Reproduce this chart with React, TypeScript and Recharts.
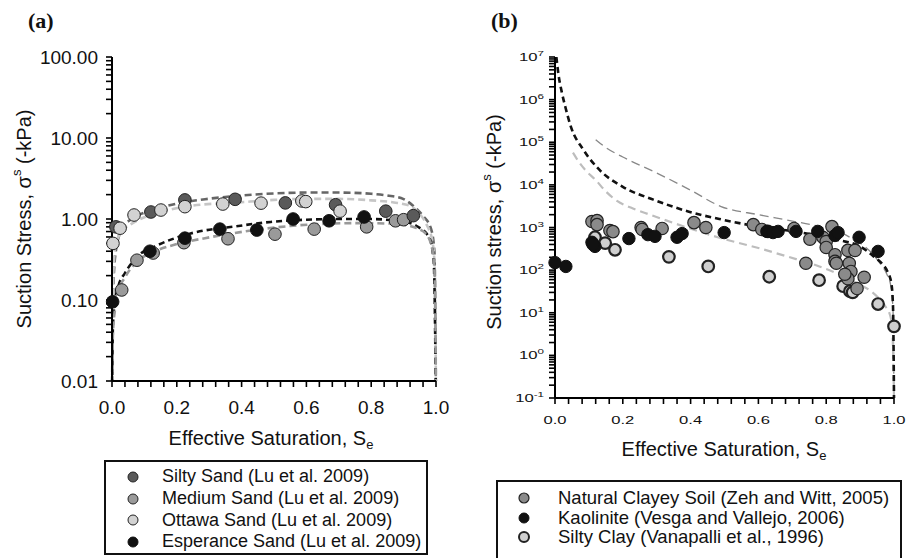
import React from 'react';
import { ComposedChart, Line, Scatter, XAxis, YAxis } from 'recharts';

type Pt = { x: number; y: number };
const pts = (rows: number[][]): Pt[] => rows.map(([x, y]) => ({ x, y }));

// ---------- panel (a): measured points ----------
const SILTY_SAND = pts([[0.012, 0.8], [0.12, 1.22], [0.225, 1.72], [0.38, 1.75], [0.535, 1.58], [0.69, 1.5], [0.845, 1.25], [0.93, 1.1]]);
const MEDIUM_SAND = pts([[0.03, 0.133], [0.077, 0.31], [0.127, 0.38], [0.222, 0.51], [0.358, 0.57], [0.503, 0.65], [0.624, 0.75], [0.786, 0.8], [0.875, 0.95], [0.9, 0.98]]);
const OTTAWA_SAND = pts([[0.003, 0.5], [0.025, 0.77], [0.068, 1.12], [0.151, 1.29], [0.225, 1.42], [0.342, 1.53], [0.46, 1.57], [0.586, 1.67], [0.598, 1.64], [0.704, 1.25]]);
const ESPERANCE_SAND = pts([[0.002, 0.095], [0.117, 0.4], [0.225, 0.58], [0.333, 0.75], [0.447, 0.73], [0.559, 1.0], [0.67, 0.95], [0.778, 1.06]]);

// ---------- panel (a): fitted curves ----------
const SILTY_SAND_FIT = pts([[0, 0.005], [0.003, 0.1], [0.01, 0.35], [0.03, 0.75], [0.06, 1.0], [0.1, 1.2], [0.15, 1.38], [0.2, 1.55], [0.3, 1.78], [0.4, 1.95], [0.5, 2.07], [0.6, 2.12], [0.7, 2.12], [0.8, 2.05], [0.85, 1.95], [0.9, 1.76], [0.93, 1.45], [0.96, 1.09], [0.985, 0.75], [0.995, 0.4], [1.0, 0.005]]);
const OTTAWA_SAND_FIT = pts([[0, 0.005], [0.003, 0.15], [0.01, 0.45], [0.03, 0.7], [0.06, 0.87], [0.1, 1.05], [0.15, 1.22], [0.24, 1.45], [0.39, 1.6], [0.5, 1.72], [0.6, 1.77], [0.7, 1.77], [0.8, 1.7], [0.87, 1.6], [0.92, 1.45], [0.95, 1.15], [0.97, 0.87], [0.99, 0.5], [0.997, 0.2], [1.0, 0.005]]);
const ESPERANCE_SAND_FIT = pts([[0, 0.005], [0.003, 0.05], [0.01, 0.1], [0.02, 0.15], [0.04, 0.215], [0.08, 0.35], [0.133, 0.46], [0.235, 0.65], [0.39, 0.82], [0.49, 0.92], [0.6, 0.98], [0.7, 1.0], [0.8, 1.0], [0.86, 0.97], [0.9, 0.93], [0.94, 0.82], [0.98, 0.58], [0.993, 0.3], [1.0, 0.005]]);
const MEDIUM_SAND_FIT = pts([[0, 0.005], [0.003, 0.04], [0.01, 0.08], [0.02, 0.13], [0.04, 0.19], [0.07, 0.28], [0.133, 0.4], [0.2, 0.49], [0.287, 0.58], [0.44, 0.73], [0.55, 0.82], [0.65, 0.87], [0.75, 0.89], [0.85, 0.88], [0.9, 0.85], [0.94, 0.77], [0.97, 0.65], [0.99, 0.4], [0.997, 0.15], [1.0, 0.005]]);

// ---------- panel (b): measured points ----------
const CLAYEY_SOIL = pts([[0.109, 1380], [0.124, 1450], [0.124, 1170], [0.162, 850], [0.171, 800], [0.254, 1000], [0.257, 900], [0.316, 950], [0.41, 1300], [0.445, 1000], [0.585, 1170], [0.61, 900], [0.628, 810], [0.705, 950], [0.752, 530], [0.74, 145], [0.79, 590], [0.8, 470], [0.817, 1050], [0.8, 340], [0.826, 230], [0.826, 160], [0.83, 145], [0.864, 290], [0.885, 290], [0.868, 145], [0.873, 93], [0.864, 63], [0.891, 37], [0.912, 68], [0.855, 80]]);
const KAOLINITE = pts([[0.0, 150], [0.032, 122], [0.109, 450], [0.118, 360], [0.112, 400], [0.218, 550], [0.274, 680], [0.295, 620], [0.36, 590], [0.375, 720], [0.499, 760], [0.625, 810], [0.643, 760], [0.658, 810], [0.711, 810], [0.775, 810], [0.826, 650], [0.835, 760], [0.897, 590], [0.953, 275]]);
const SILTY_CLAY = pts([[0.118, 590], [0.148, 430], [0.177, 300], [0.336, 205], [0.452, 122], [0.632, 70], [0.779, 58], [0.85, 42], [0.87, 32], [0.878, 30], [0.953, 16], [1.0, 4.8]]);

// ---------- panel (b): fitted curves ----------
const KAOLINITE_FIT = pts([[0.004, 1e7], [0.01, 4e6], [0.02, 1.5e6], [0.03, 7e5], [0.047, 2.3e5], [0.083, 6.8e4], [0.13, 2.3e4], [0.2, 9e3], [0.29, 4.5e3], [0.395, 2.35e3], [0.49, 1.55e3], [0.6, 1.05e3], [0.7, 820], [0.78, 640], [0.84, 500], [0.9, 360], [0.94, 210], [0.965, 140], [0.98, 95], [0.992, 50], [0.997, 15], [1.0, 0.1]]);
const CLAYEY_SOIL_FIT = pts([[0.12, 1.15e5], [0.15, 7.5e4], [0.2, 4.5e4], [0.3, 1.9e4], [0.4, 7.5e3], [0.49, 3.1e3], [0.6, 2e3], [0.684, 1.5e3], [0.78, 1050], [0.84, 780], [0.88, 530], [0.91, 380], [0.938, 235], [0.96, 140], [0.979, 80], [0.99, 45], [0.997, 12], [1.0, 0.1]]);
const SILTY_CLAY_FIT = pts([[0.053, 5.7e4], [0.07, 3.5e4], [0.09, 2.2e4], [0.12, 1.3e4], [0.15, 7e3], [0.183, 4.2e3], [0.23, 2.8e3], [0.28, 2e3], [0.378, 1.07e3], [0.49, 560], [0.6, 330], [0.684, 210], [0.78, 122], [0.88, 55], [0.95, 24], [0.975, 14], [0.988, 9], [0.995, 4], [1.0, 0.1]]);

// ---------- axes ----------
const X_MAJOR = [0, 0.2, 0.4, 0.6, 0.8, 1.0];
const X_TICKS = [0, 0.04, 0.08, 0.12, 0.16, 0.2, 0.24, 0.28, 0.32, 0.36, 0.4, 0.44, 0.48, 0.52, 0.56, 0.6, 0.64, 0.68, 0.72, 0.76, 0.8, 0.84, 0.88, 0.92, 0.96, 1.0];
const A_Y_MAJOR = [0.01, 0.1, 1, 10, 100];
const A_Y_LABELS = ['0.01', '0.10', '1.00', '10.00', '100.00'];
const B_Y_MAJOR = [0.1, 1, 10, 100, 1e3, 1e4, 1e5, 1e6, 1e7];
const B_Y_EXP = ['-1', '0', '1', '2', '3', '4', '5', '6', '7'];
const MINOR_MULT = [2, 3, 4, 5, 6, 7, 8, 9];

const logTicks = (majors: number[]) =>
  [...majors, ...majors.slice(0, -1).flatMap((d) => MINOR_MULT.map((m) => d * m))].sort((a, b) => a - b);
const A_Y_TICKS = logTicks(A_Y_MAJOR);
const B_Y_TICKS = logTicks(B_Y_MAJOR);

const FONT = '"Liberation Sans", Arial, Helvetica, sans-serif';
const SERIF = '"Liberation Serif", "Times New Roman", serif';
const AXIS = { stroke: '#000', strokeWidth: 2 };
const TICKLINE = { stroke: '#000', strokeWidth: 1.6 };
const TS = 6; // tick length

const isMajorX = (v: number) => X_MAJOR.some((m) => Math.abs(m - v) < 1e-6);
const logIndex = (majors: number[], v: number) =>
  majors.findIndex((m) => Math.abs(Math.log10(m) - Math.log10(v)) < 1e-6);

const blank = () => <g />;

const dot = (fill: string, stroke: string, sw: number, r: number) => (p: any) =>
  <circle cx={p.cx} cy={p.cy} r={r} fill={fill} stroke={stroke} strokeWidth={sw} />;

// ---------- legends ----------
const A_LEGEND = [
  { name: 'Silty Sand (Lu et al. 2009)', fill: '#5a5a5a', stroke: '#222', sw: 1 },
  { name: 'Medium Sand (Lu et al. 2009)', fill: '#9a9a9a', stroke: '#222', sw: 1 },
  { name: 'Ottawa Sand (Lu et al. 2009)', fill: '#d2d2d2', stroke: '#222', sw: 1 },
  { name: 'Esperance Sand (Lu et al. 2009)', fill: '#111', stroke: '#111', sw: 1 },
];
const B_LEGEND = [
  { name: 'Natural Clayey Soil (Zeh and Witt, 2005)', fill: '#8a8a8a', stroke: '#222', sw: 1.2 },
  { name: 'Kaolinite (Vesga and Vallejo, 2006)', fill: '#111', stroke: '#111', sw: 1 },
  { name: 'Silty Clay (Vanapalli et al., 1996)', fill: '#cfcfcf', stroke: '#222', sw: 2 },
];

const LegendBox = ({ box, rowH, firstY, markerX, textX, fontSize, items }: any) => (
  <div style={{ position: 'absolute', ...box, border: '2px solid #111', boxSizing: 'border-box', background: '#fff' }}>
    {items.map((it: any, i: number) => (
      <div key={it.name} style={{ position: 'absolute', left: 0, top: firstY - 2 + i * rowH - rowH / 2, height: rowH, width: '100%' }}>
        <svg width={14} height={14} style={{ position: 'absolute', left: markerX - 2 - 7, top: rowH / 2 - 7 }}>
          <circle cx={7} cy={7} r={5} fill={it.fill} stroke={it.stroke} strokeWidth={it.sw} />
        </svg>
        <span style={{ position: 'absolute', left: textX - 2, top: 0, lineHeight: `${rowH}px`, fontSize, fontFamily: FONT, color: '#111', whiteSpace: 'nowrap' }}>
          {it.name}
        </span>
      </div>
    ))}
  </div>
);

const Title = ({ left, text }: { left: number; text: string }) => (
  <div style={{ position: 'absolute', left, top: 10, fontFamily: SERIF, fontWeight: 'bold', fontSize: 22, lineHeight: '22px', color: '#111' }}>
    {text}
  </div>
);

const PanelA = () => (
  <ComposedChart width={458} height={460} margin={{ top: 57, right: 22, bottom: 9, left: 12 }} style={{ position: 'absolute', left: 0, top: 0 }}>
    <XAxis xAxisId="b" dataKey="x" type="number" domain={[0, 1]} ticks={X_TICKS} interval={0} height={70}
      axisLine={AXIS} tickLine={TICKLINE} tickSize={TS} tickMargin={0}
      tick={(p: any) => isMajorX(p.payload.value) ? (
        <text x={p.x} y={p.y + 20} dy="0.35em" textAnchor="middle" fontSize={19} fontFamily={FONT} fill="#111">{p.payload.value.toFixed(1)}</text>
      ) : <g />}
      label={() => (
        <text x={271} y={438} textAnchor="middle" dominantBaseline="central" fontSize={20} fontFamily={FONT} fill="#111">
          Effective Saturation, S<tspan dy={6} fontSize={13}>e</tspan>
        </text>
      )} />
    <XAxis xAxisId="t" orientation="top" dataKey="x" type="number" domain={[0, 1]} allowDataOverflow ticks={X_TICKS} interval={0} height={0}
      axisLine={AXIS} tickLine={TICKLINE} tickSize={TS} tickMargin={0} tick={blank} />
    <YAxis yAxisId="l" dataKey="y" type="number" scale="log" domain={[0.01, 100]} allowDataOverflow ticks={A_Y_TICKS} interval={0} width={100}
      axisLine={AXIS} tickLine={TICKLINE} tickSize={TS} tickMargin={0}
      tick={(p: any) => {
        const i = logIndex(A_Y_MAJOR, p.payload.value);
        return i >= 0 ? (
          <text x={p.x - 8} y={p.y} dy="0.35em" textAnchor="end" fontSize={19} fontFamily={FONT} fill="#111">{A_Y_LABELS[i]}</text>
        ) : <g />;
      }}
      label={() => (
        <text transform="rotate(-90 24 219)" x={24} y={219} textAnchor="middle" dominantBaseline="central" fontSize={20} fontFamily={FONT} fill="#111">
          Suction Stress, σ<tspan dy={-8} fontSize={13}>s</tspan><tspan dy={8}> (-kPa)</tspan>
        </text>
      )} />
    <YAxis yAxisId="r" orientation="right" dataKey="y" type="number" scale="log" domain={[0.01, 100]} ticks={A_Y_TICKS} interval={0} width={0}
      axisLine={AXIS} tickLine={TICKLINE} tickSize={TS} tickMargin={0} tick={blank} />

    <Line xAxisId="b" yAxisId="l" data={SILTY_SAND_FIT} dataKey="y" type="monotone" stroke="#666" strokeWidth={2.6} strokeDasharray="7 4" dot={false} isAnimationActive={false} />
    <Line xAxisId="b" yAxisId="l" data={OTTAWA_SAND_FIT} dataKey="y" type="monotone" stroke="#c6c6c6" strokeWidth={2.6} strokeDasharray="7 4" dot={false} isAnimationActive={false} />
    <Line xAxisId="b" yAxisId="l" data={ESPERANCE_SAND_FIT} dataKey="y" type="monotone" stroke="#111" strokeWidth={2.6} strokeDasharray="6 4" dot={false} isAnimationActive={false} />
    <Line xAxisId="b" yAxisId="l" data={MEDIUM_SAND_FIT} dataKey="y" type="monotone" stroke="#999" strokeWidth={2.6} strokeDasharray="7 4" dot={false} isAnimationActive={false} />

    <Scatter xAxisId="b" yAxisId="r" data={MEDIUM_SAND} dataKey="y" shape={dot('#9a9a9a', '#222', 1, 6.3)} isAnimationActive={false} />
    <Scatter xAxisId="b" yAxisId="r" data={ESPERANCE_SAND} dataKey="y" shape={dot('#111', '#111', 1, 6.3)} isAnimationActive={false} />
    <Scatter xAxisId="b" yAxisId="r" data={SILTY_SAND} dataKey="y" shape={dot('#5a5a5a', '#222', 1, 6.3)} isAnimationActive={false} />
    <Scatter xAxisId="b" yAxisId="r" data={OTTAWA_SAND} dataKey="y" shape={dot('#d2d2d2', '#222', 1, 6.3)} isAnimationActive={false} />
  </ComposedChart>
);

const PanelB = () => (
  <ComposedChart width={458} height={470} margin={{ top: 57, right: 22, bottom: 2, left: 12 }} style={{ position: 'absolute', left: 458, top: 0 }}>
    <XAxis xAxisId="b" dataKey="x" type="number" domain={[0, 1]} ticks={X_TICKS} interval={0} height={70}
      axisLine={AXIS} tickLine={TICKLINE} tickSize={TS} tickMargin={0}
      tick={(p: any) => isMajorX(p.payload.value) ? (
        <g transform={`translate(${p.x},${p.y + 16}) scale(1.43,1)`}>
          <text x={0} y={0} dy="0.35em" textAnchor="middle" fontSize={11.6} fontFamily={FONT} fill="#111">{p.payload.value.toFixed(1)}</text>
        </g>
      ) : <g />}
      label={() => (
        <text x={266} y={449} textAnchor="middle" dominantBaseline="central" fontSize={20} fontFamily={FONT} fill="#111">
          Effective Saturation, S<tspan dy={6} fontSize={13}>e</tspan>
        </text>
      )} />
    <XAxis xAxisId="t" orientation="top" dataKey="x" type="number" domain={[0, 1]} allowDataOverflow ticks={X_TICKS} interval={0} height={0}
      axisLine={AXIS} tickLine={TICKLINE} tickSize={TS} tickMargin={0} tick={blank} />
    <YAxis yAxisId="l" dataKey="y" type="number" scale="log" domain={[0.1, 1e7]} allowDataOverflow ticks={B_Y_TICKS} interval={0} width={85}
      axisLine={AXIS} tickLine={TICKLINE} tickSize={TS} tickMargin={0}
      tick={(p: any) => {
        const i = logIndex(B_Y_MAJOR, p.payload.value);
        return i >= 0 ? (
          <g transform={`translate(${p.x - 5},${p.y + 4}) scale(1.45,1)`}>
            <text x={0} y={0} textAnchor="end" fontSize={11.5} fontFamily={FONT} fill="#111">
              10<tspan dy={-5} fontSize={8}>{B_Y_EXP[i]}</tspan>
            </text>
          </g>
        ) : <g />;
      }}
      label={() => (
        <text transform="rotate(-90 36 222)" x={36} y={222} textAnchor="middle" dominantBaseline="central" fontSize={20} fontFamily={FONT} fill="#111">
          Suction stress, σ<tspan dy={-8} fontSize={13}>s</tspan><tspan dy={8}> (-kPa)</tspan>
        </text>
      )} />
    <YAxis yAxisId="r" orientation="right" dataKey="y" type="number" scale="log" domain={[0.1, 1e7]} ticks={B_Y_TICKS} interval={0} width={0}
      axisLine={AXIS} tickLine={TICKLINE} tickSize={TS} tickMargin={0} tick={blank} />

    <Line xAxisId="b" yAxisId="l" data={CLAYEY_SOIL_FIT} dataKey="y" type="monotone" stroke="#888" strokeWidth={1.3} strokeDasharray="9 5" dot={false} isAnimationActive={false} />
    <Line xAxisId="b" yAxisId="l" data={SILTY_CLAY_FIT} dataKey="y" type="monotone" stroke="#bdbdbd" strokeWidth={2.2} strokeDasharray="8 5" dot={false} isAnimationActive={false} />
    <Line xAxisId="b" yAxisId="l" data={KAOLINITE_FIT} dataKey="y" type="monotone" stroke="#111" strokeWidth={2.6} strokeDasharray="6 4" dot={false} isAnimationActive={false} />

    <Scatter xAxisId="b" yAxisId="r" data={SILTY_CLAY} dataKey="y" shape={dot('#cfcfcf', '#222', 2.2, 5.8)} isAnimationActive={false} />
    <Scatter xAxisId="b" yAxisId="r" data={CLAYEY_SOIL} dataKey="y" shape={dot('#8a8a8a', '#222', 1.2, 6.2)} isAnimationActive={false} />
    <Scatter xAxisId="b" yAxisId="r" data={KAOLINITE} dataKey="y" shape={dot('#111', '#111', 1, 6.2)} isAnimationActive={false} />
  </ComposedChart>
);

export default function App() {
  return (
    <div style={{ position: 'absolute', left: 0, top: 0, width: 916, height: 558, overflow: 'hidden', background: '#fff' }}>
      <Title left={28} text="(a)" />
      <Title left={491} text="(b)" />
      <PanelA />
      <PanelB />
      <LegendBox box={{ left: 104, top: 460, width: 324, height: 95 }} rowH={21.7} firstY={17} markerX={29} textX={58} fontSize={18} items={A_LEGEND} />
      <LegendBox box={{ left: 496, top: 480, width: 406, height: 100 }} rowH={19.5} firstY={18} markerX={28} textX={62} fontSize={18.5} items={B_LEGEND} />
    </div>
  );
}
